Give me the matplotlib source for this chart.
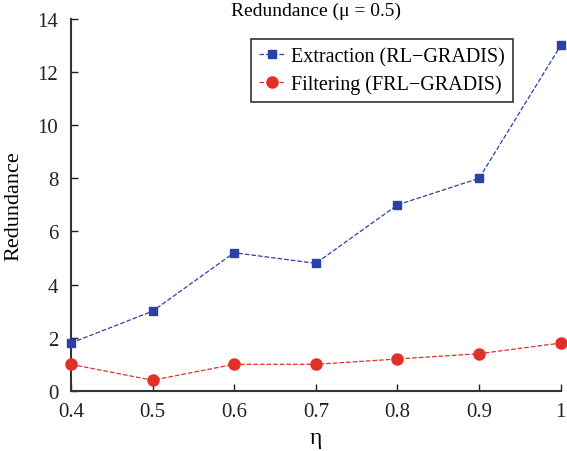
import matplotlib
matplotlib.use("Agg")
import matplotlib.pyplot as plt

# data
eta = [0.4, 0.5, 0.6, 0.7, 0.8, 0.9, 1.0]
extraction = [1.8, 3.0, 5.2, 4.8, 7.0, 8.0, 13.0]
filtering = [1.0, 0.4, 1.0, 1.0, 1.2, 1.4, 1.8]
x_ticks = [0.4, 0.5, 0.6, 0.7, 0.8, 0.9, 1.0]
x_labels = ["0.4", "0.5", "0.6", "0.7", "0.8", "0.9", "1"]
y_ticks = [0, 2, 4, 6, 8, 10, 12, 14]

plt.rcParams["font.family"] = ["Liberation Serif", "DejaVu Serif"]

fig = plt.figure(figsize=(5.67, 4.52), dpi=100)
ax = fig.add_axes([0.125, 0.133, 0.864, 0.823])

ax.plot(eta, extraction, "--s", color="#2a41a8", markersize=6, linewidth=0.9,
        label="Extraction (RL\u2212GRADIS)", clip_on=False, zorder=3)
ax.plot(eta, filtering, "--o", color="#e0302a", markersize=8, linewidth=0.9,
        label="Filtering (FRL\u2212GRADIS)", clip_on=False, zorder=3)

ax.set_xlim(0.4, 1.0)
ax.set_ylim(0, 14)
ax.set_xticks(x_ticks)
ax.set_xticklabels(x_labels)
ax.set_yticks(y_ticks)
ax.tick_params(direction="in", labelsize=15, length=5, width=1, colors="#222222")
ax.tick_params(axis="y", pad=9)
ax.tick_params(axis="x", pad=8)
for s in ["top", "right"]:
    ax.spines[s].set_visible(False)
for s in ["left", "bottom"]:
    ax.spines[s].set_linewidth(1.5)
    ax.spines[s].set_color("#333333")

ax.set_xlabel("\u03b7", fontsize=17, labelpad=4)
ax.set_ylabel("Redundance", fontsize=16, labelpad=10)
ax.set_title("Redundance (\u03bc = 0.5)", fontsize=14, pad=1)

leg = ax.legend(loc="upper left", bbox_to_anchor=(0.368, 0.946), fontsize=14.5,
                frameon=True, fancybox=False, edgecolor="black",
                handlelength=1.3, handletextpad=0.3, borderpad=0.4,
                labelspacing=0.4, borderaxespad=0)
leg.get_frame().set_linewidth(1.2)

fig.savefig("out.png", dpi=100)
